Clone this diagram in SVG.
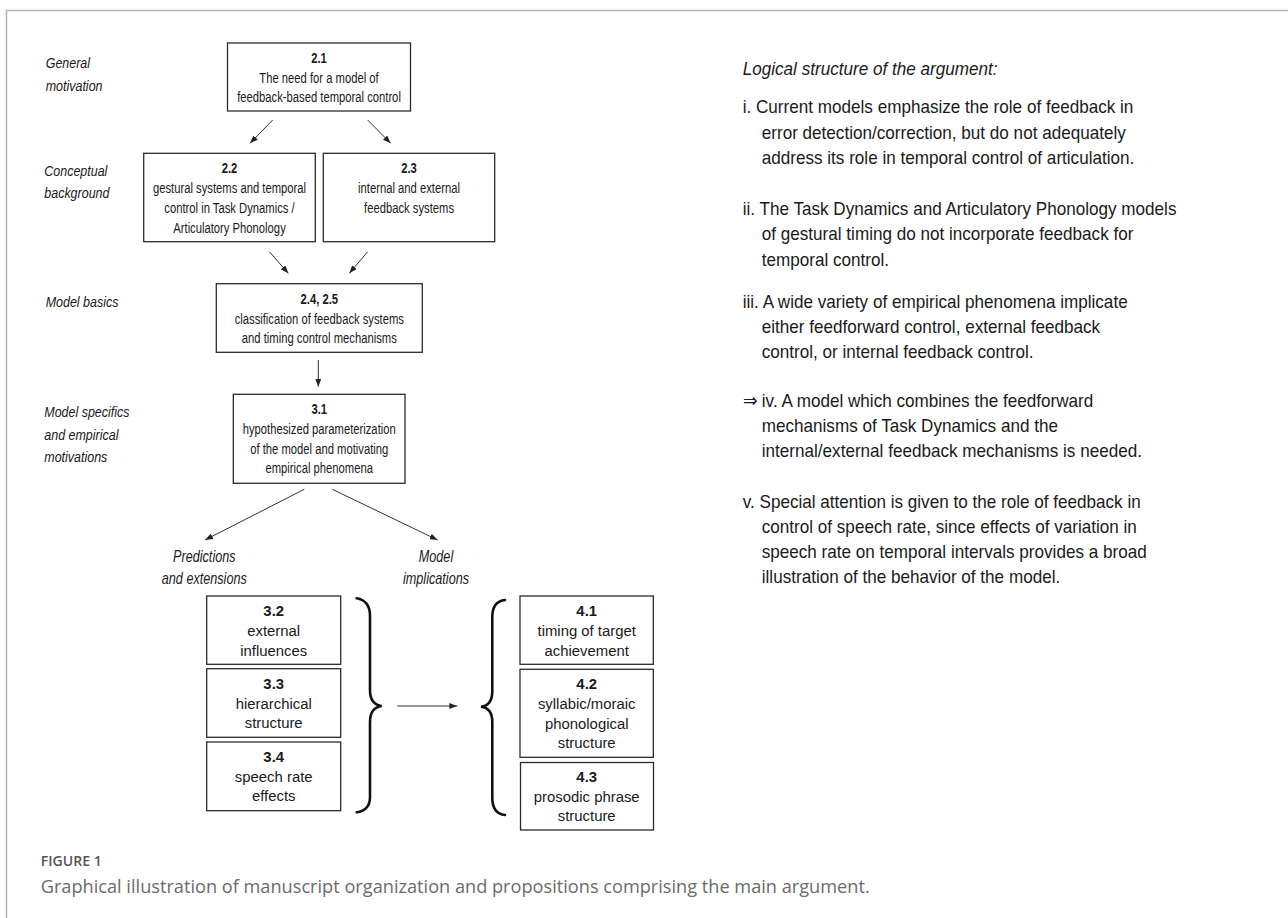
<svg xmlns="http://www.w3.org/2000/svg" width="1288" height="918" viewBox="0 0 1288 918">
<style>
.t{font-family:"Liberation Sans",Arial,sans-serif;fill:#1a1a1a}
.bx{font-size:15px;text-anchor:middle}
.bb{font-size:15.5px;text-anchor:middle}
.b{font-weight:bold}
.lab{font-size:15.4px;font-style:italic}
.plab{font-size:16px;font-style:italic;text-anchor:middle}
.rt{font-size:18.6px}
.box{fill:#fff;stroke:#2b2b2b;stroke-width:1.3}
.arr{stroke:#333;stroke-width:1;fill:none;marker-end:url(#ah)}
.brace{fill:none;stroke:#111;stroke-width:2.6;stroke-linecap:round}
.cap{font-family:"Open Sans","Liberation Sans",sans-serif}
</style>
<defs>
<marker id="ah" markerWidth="8" markerHeight="6" refX="8" refY="3" orient="auto" markerUnits="userSpaceOnUse">
<path d="M0,0 L8,3 L0,6 z" fill="#222"/>
</marker>
</defs>
<rect width="1288" height="918" fill="#fff"/>
<path d="M6.5,918 V10.5 H1288" fill="none" stroke="#b3b3b3" stroke-width="1.5"/>

<g id="labels" class="t lab">
<text transform="translate(45.7,0) scale(0.81,1)"><tspan x="0" y="68.3">General</tspan><tspan x="0" y="90.7">motivation</tspan></text>
<text transform="translate(44.3,0) scale(0.81,1)"><tspan x="0" y="176">Conceptual</tspan><tspan x="0" y="198.3">background</tspan></text>
<text transform="translate(45.7,0) scale(0.81,1)"><tspan x="0" y="306.7">Model basics</tspan></text>
<text transform="translate(44.3,0) scale(0.81,1)"><tspan x="0" y="417.3">Model specifics</tspan><tspan x="0" y="440">and empirical</tspan><tspan x="0" y="461.7">motivations</tspan></text>
</g>

<g id="n21">
<rect class="box" x="227.5" y="43" width="183" height="68"/>
<text class="t bx" transform="translate(319,0) scale(0.75,1)"><tspan class="b" x="0" y="62.7">2.1</tspan><tspan x="0" y="82.7">The need for a model of</tspan><tspan x="0" y="102">feedback-based temporal control</tspan></text>
</g>
<g id="n22">
<rect class="box" x="143.7" y="153.3" width="171.6" height="88.4"/>
<text class="t bx" transform="translate(229.5,0) scale(0.75,1)"><tspan class="b" x="0" y="173.3">2.2</tspan><tspan x="0" y="193.3">gestural systems and temporal</tspan><tspan x="0" y="213.3">control in Task Dynamics /</tspan><tspan x="0" y="233.3">Articulatory Phonology</tspan></text>
</g>
<g id="n23">
<rect class="box" x="323.3" y="153.3" width="171.4" height="88.4"/>
<text class="t bx" transform="translate(409,0) scale(0.75,1)"><tspan class="b" x="0" y="173.3">2.3</tspan><tspan x="0" y="193.3">internal and external</tspan><tspan x="0" y="213.3">feedback systems</tspan></text>
</g>
<g id="n24">
<rect class="box" x="216.3" y="283.7" width="206" height="68.6"/>
<text class="t bx" transform="translate(319.3,0) scale(0.75,1)"><tspan class="b" x="0" y="304">2.4, 2.5</tspan><tspan x="0" y="324">classification of feedback systems</tspan><tspan x="0" y="343.5">and timing control mechanisms</tspan></text>
</g>
<g id="n31">
<rect class="box" x="233.3" y="394.3" width="171.7" height="89"/>
<text class="t bx" transform="translate(319.2,0) scale(0.75,1)"><tspan class="b" x="0" y="414">3.1</tspan><tspan x="0" y="434">hypothesized parameterization</tspan><tspan x="0" y="454">of the model and motivating</tspan><tspan x="0" y="473.5">empirical phenomena</tspan></text>
</g>

<g id="grouplabels" class="t plab">
<text transform="translate(204.3,0) scale(0.79,1)"><tspan x="0" y="561.7">Predictions</tspan><tspan x="0" y="584">and extensions</tspan></text>
<text transform="translate(436,0) scale(0.79,1)"><tspan x="0" y="561.7">Model</tspan><tspan x="0" y="584">implications</tspan></text>
</g>

<g id="n32">
<rect class="box" x="206.7" y="596" width="134" height="68.3"/>
<text class="t bb" transform="translate(273.7,0) scale(0.96,1)"><tspan class="b" x="0" y="616">3.2</tspan><tspan x="0" y="636">external</tspan><tspan x="0" y="656">influences</tspan></text>
</g>
<g id="n33">
<rect class="box" x="206.7" y="668.7" width="134" height="68.6"/>
<text class="t bb" transform="translate(273.7,0) scale(0.96,1)"><tspan class="b" x="0" y="689">3.3</tspan><tspan x="0" y="709.3">hierarchical</tspan><tspan x="0" y="728.5">structure</tspan></text>
</g>
<g id="n34">
<rect class="box" x="206.7" y="742" width="134" height="68.7"/>
<text class="t bb" transform="translate(273.7,0) scale(0.96,1)"><tspan class="b" x="0" y="761.7">3.4</tspan><tspan x="0" y="781.7">speech rate</tspan><tspan x="0" y="801">effects</tspan></text>
</g>
<g id="n41">
<rect class="box" x="520" y="596" width="133.3" height="68.3"/>
<text class="t bb" transform="translate(586.7,0) scale(0.96,1)"><tspan class="b" x="0" y="616">4.1</tspan><tspan x="0" y="636">timing of target</tspan><tspan x="0" y="656">achievement</tspan></text>
</g>
<g id="n42">
<rect class="box" x="520" y="669.3" width="133.3" height="88"/>
<text class="t bb" transform="translate(586.7,0) scale(0.96,1)"><tspan class="b" x="0" y="689">4.2</tspan><tspan x="0" y="709.3">syllabic/moraic</tspan><tspan x="0" y="729">phonological</tspan><tspan x="0" y="748">structure</tspan></text>
</g>
<g id="n43">
<rect class="box" x="520.5" y="762.5" width="133" height="67.5"/>
<text class="t bb" transform="translate(586.7,0) scale(0.96,1)"><tspan class="b" x="0" y="781.7">4.3</tspan><tspan x="0" y="802">prosodic phrase</tspan><tspan x="0" y="821.5">structure</tspan></text>
</g>

<g id="connectors">
<line class="arr" x1="272.7" y1="120" x2="250" y2="143.3"/>
<line class="arr" x1="367.7" y1="120" x2="390.7" y2="143.3"/>
<line class="arr" x1="269.3" y1="251.7" x2="288.3" y2="273.3"/>
<line class="arr" x1="367.7" y1="251.7" x2="349.3" y2="273.3"/>
<line class="arr" x1="318.3" y1="360" x2="318.3" y2="386.7"/>
<line class="arr" x1="304.3" y1="489.3" x2="205" y2="540"/>
<line class="arr" x1="332.3" y1="489.3" x2="437.7" y2="540"/>
<line class="arr" x1="397.3" y1="706" x2="457.3" y2="706"/>
<path class="brace" d="M356.7,598.3 C366,600 370,606 370,616 L370,690 C370,700 374,705 381.7,706 C374,707 370,712 370,722 L370,797 C370,806 366,811 356.7,812.3"/>
<path class="brace" d="M505,600 C496,601 492.3,607 492.3,617 L492.3,691 C492.3,701 488,706 481,706.7 C488,707.5 492.3,712 492.3,722 L492.3,798 C492.3,808 496,814 505,815"/>
</g>

<g id="argument" class="t rt" transform="translate(742.7,0) scale(0.92,1)">
<text font-style="italic" x="0" y="75">Logical structure of the argument:</text>
<text><tspan x="0" y="113.3">i. Current models emphasize the role of feedback in</tspan><tspan x="20.7" y="139">error detection/correction, but do not adequately</tspan><tspan x="20.7" y="164">address its role in temporal control of articulation.</tspan></text>
<text><tspan x="0" y="215">ii. The Task Dynamics and Articulatory Phonology models</tspan><tspan x="20.7" y="240">of gestural timing do not incorporate feedback for</tspan><tspan x="20.7" y="265.7">temporal control.</tspan></text>
<text><tspan x="0" y="308.3">iii. A wide variety of empirical phenomena implicate</tspan><tspan x="20.7" y="333.3">either feedforward control, external feedback</tspan><tspan x="20.7" y="358.3">control, or internal feedback control.</tspan></text>
<text><tspan x="0" y="406.7">⇒ iv. A model which combines the feedforward</tspan><tspan x="20.7" y="431.7">mechanisms of Task Dynamics and the</tspan><tspan x="20.7" y="456.7">internal/external feedback mechanisms is needed.</tspan></text>
<text><tspan x="0" y="508.3">v. Special attention is given to the role of feedback in</tspan><tspan x="20.7" y="533.3">control of speech rate, since effects of variation in</tspan><tspan x="20.7" y="558.3">speech rate on temporal intervals provides a broad</tspan><tspan x="20.7" y="583.3">illustration of the behavior of the model.</tspan></text>
</g>

<g id="caption" class="cap">
<text x="40.7" y="865.7" font-size="13.5" font-weight="600" fill="#555" textLength="61" lengthAdjust="spacingAndGlyphs">FIGURE 1</text>
<text x="40.7" y="893.3" font-size="18" fill="#6b6b6b" textLength="829" lengthAdjust="spacingAndGlyphs">Graphical illustration of manuscript organization and propositions comprising the main argument.</text>
</g>
</svg>
